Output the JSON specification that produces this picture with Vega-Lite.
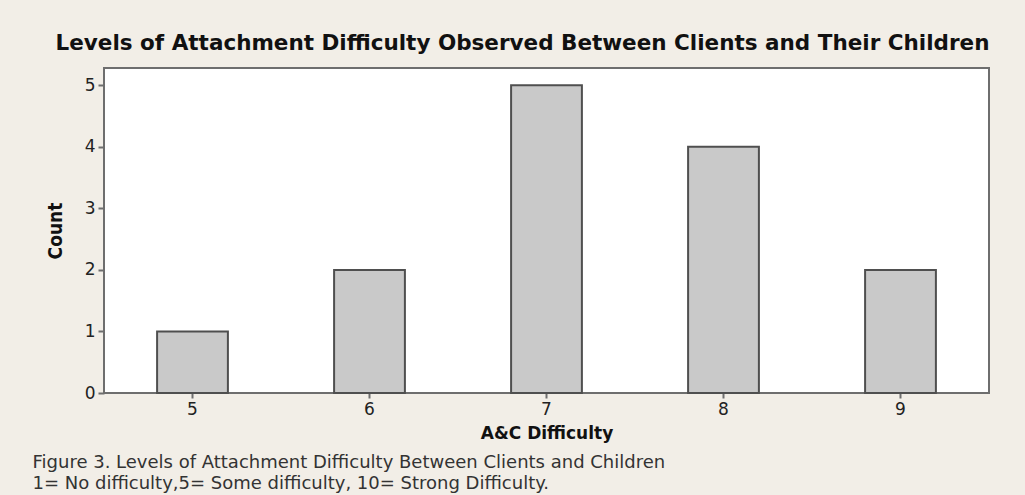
{
  "$schema": "https://vega.github.io/schema/vega-lite/v6.json",
  "width": 885,
  "height": 325,
  "autosize": {"type": "none"},
  "padding": {"left": 104, "top": 68, "right": 36, "bottom": 102},
  "background": "#F2EEE7",
  "config": {
    "view": {"fill": "white", "stroke": "#6e6e6e", "strokeWidth": 2},
    "font": "DejaVu Sans"
  },
  "title": {
    "text": "Levels of Attachment Difficulty Observed Between Clients and Their Children",
    "font": "DejaVu Sans",
    "fontSize": 21.5,
    "fontWeight": "bold",
    "color": "#111111",
    "anchor": "middle",
    "frame": "group",
    "dx": -24,
    "offset": 14
  },
  "data": {
    "values": [
      {"score": 5, "count": 1},
      {"score": 6, "count": 2},
      {"score": 7, "count": 5},
      {"score": 8, "count": 4},
      {"score": 9, "count": 2}
    ]
  },
  "resolve": {"axis": {"x": "independent", "y": "independent"}},
  "layer": [
    {
      "mark": {"type": "bar", "fill": "#C9C9C9", "stroke": "#4f4f4f", "strokeWidth": 2},
      "encoding": {
        "x": {
          "field": "score",
          "type": "ordinal",
          "scale": {"paddingInner": 0.6, "paddingOuter": 0.3},
          "axis": {
            "title": "A&C Difficulty",
            "labelAngle": 0,
            "labelFont": "DejaVu Sans",
            "labelFontSize": 17,
            "labelColor": "#222222",
            "labelPadding": 3,
            "tickSize": 5,
            "tickWidth": 2,
            "tickColor": "#6e6e6e",
            "domain": false,
            "titleFont": "DejaVu Sans",
            "titleFontSize": 17,
            "titleFontWeight": "bold",
            "titleColor": "#111111",
            "titleBaseline": "alphabetic",
            "titleY": 45
          }
        },
        "y": {
          "field": "count",
          "type": "quantitative",
          "scale": {"domain": [0, 5.28], "nice": false},
          "axis": {
            "values": [0, 1, 2, 3, 4, 5],
            "grid": false,
            "domain": false,
            "title": "Count",
            "labelFont": "DejaVu Sans",
            "labelFontSize": 17,
            "labelColor": "#222222",
            "labelPadding": 3,
            "tickSize": 6,
            "tickWidth": 2,
            "tickColor": "#6e6e6e",
            "titleFont": "DejaVu Sans Condensed, Liberation Sans Narrow, Roboto Condensed, DejaVu Sans",
            "titleFontSize": 19,
            "titleFontWeight": "bold",
            "titleColor": "#111111",
            "titlePadding": 19
          }
        }
      }
    },
    {
      "mark": {"type": "bar", "opacity": 0},
      "encoding": {
        "x": {
          "field": "score",
          "type": "ordinal",
          "axis": {
            "orient": "bottom",
            "labels": false,
            "ticks": false,
            "domain": false,
            "title": [
              "Figure 3. Levels of Attachment Difficulty Between Clients and Children",
              "1= No difficulty,5= Some difficulty, 10= Strong Difficulty."
            ],
            "titleFont": "DejaVu Sans",
            "titleFontSize": 18,
            "titleFontWeight": "normal",
            "titleColor": "#333333",
            "titleAlign": "left",
            "titleBaseline": "alphabetic",
            "titleLineHeight": 21,
            "titleX": -72,
            "titleY": 74
          }
        },
        "y": {"field": "count", "type": "quantitative", "axis": null}
      }
    }
  ]
}
